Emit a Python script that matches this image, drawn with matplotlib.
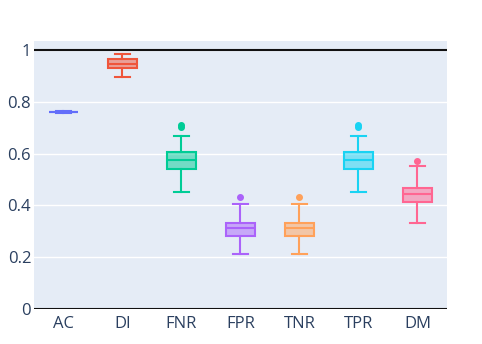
import matplotlib.pyplot as plt
from matplotlib.colors import to_rgba

plt.rcParams.update({'font.family': ['Open Sans', 'DejaVu Sans']})

# Box statistics
labels = ['AC', 'DI', 'FNR', 'FPR', 'TNR', 'TPR', 'DM']
whislo = [0.757, 0.896, 0.450, 0.214, 0.214, 0.450, 0.333]
q1 = [0.759, 0.929, 0.542, 0.281, 0.281, 0.542, 0.412]
med = [0.760, 0.947, 0.575, 0.311, 0.311, 0.574, 0.445]
q3 = [0.761, 0.964, 0.605, 0.333, 0.333, 0.605, 0.468]
whishi = [0.763, 0.983, 0.669, 0.405, 0.405, 0.669, 0.553]
fliers = [[], [], [0.703, 0.710], [0.434], [0.434], [0.703, 0.710], [0.573]]
colors = ['#636EFA', '#EF553B', '#00CC96', '#AB63FA', '#FFA15A', '#19D3F3', '#FF6692']

fig = plt.figure(figsize=(4.82, 3.44), dpi=100)
ax = fig.add_axes([34 / 482, 35 / 344, 413 / 482, 268 / 344])
ax.set_facecolor('#E5ECF6')

for i, lab in enumerate(labels):
    st = [{'label': lab, 'whislo': whislo[i], 'q1': q1[i], 'med': med[i],
           'q3': q3[i], 'whishi': whishi[i], 'fliers': fliers[i]}]
    c = colors[i]
    ax.bxp(st, positions=[i], widths=0.5, patch_artist=True,
           boxprops=dict(facecolor=to_rgba(c, 0.5), edgecolor=c, lw=1.5),
           medianprops=dict(color=c, lw=1.5),
           whiskerprops=dict(color=c, lw=1.5),
           capprops=dict(color=c, lw=1.5), capwidths=0.25,
           flierprops=dict(marker='o', markerfacecolor=c, markeredgecolor=c,
                           markersize=4),
           zorder=3)

ax.set_xlim(-0.5, 6.5)
ax.set_ylim(0, 1.035)
ax.set_xticks(range(len(labels)))
ax.set_xticklabels(labels)
ax.set_yticks([0, 0.2, 0.4, 0.6, 0.8, 1])
ax.set_yticklabels(['0', '0.2', '0.4', '0.6', '0.8', '1'])
ax.tick_params(length=0, labelsize=12, colors='#2a3f5f')
ax.tick_params(axis='y', pad=2)
ax.tick_params(axis='x', pad=5)
ax.grid(axis='y', color='white', lw=1.0, zorder=0)
ax.set_axisbelow(True)
for s in ax.spines.values():
    s.set_visible(False)
ax.axhline(0, color='#111111', lw=1.5, zorder=2)
ax.axhline(1, color='#111111', lw=1.5, zorder=2)

fig.savefig('out.png', dpi=100)
